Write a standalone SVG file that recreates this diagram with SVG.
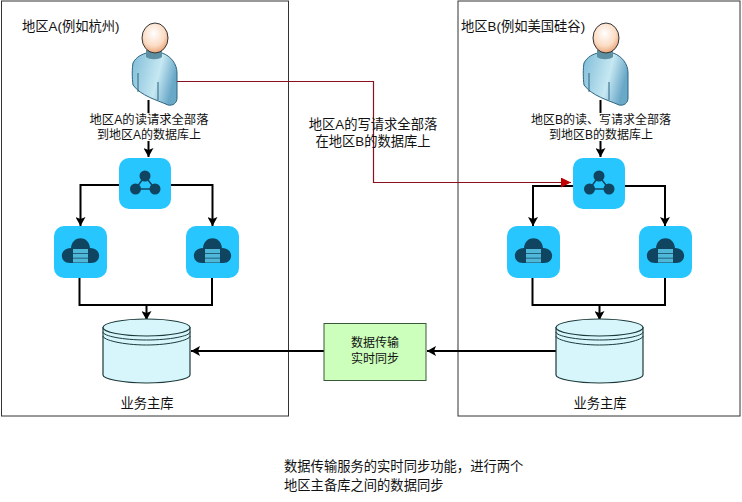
<svg xmlns="http://www.w3.org/2000/svg" width="742" height="502" viewBox="0 0 742 502">
<style>
text{font-family:"Liberation Sans","Noto Sans CJK SC",sans-serif;font-size:12px;fill:#111;text-anchor:middle}
.l{text-anchor:start}
.big{font-size:13.300px}
.c{fill:none;stroke:#000;stroke-width:2}
.r{fill:none;stroke:#8a1020;stroke-width:1.200}
.region{fill:#fff;stroke:#333;stroke-width:1}
.tile{fill:#27c6ff}
.dark{fill:#0f4560}
.db{fill:#d6f6fc;stroke:#1c3a3a;stroke-width:1.200}
</style>
<defs>
<marker id="a" markerUnits="userSpaceOnUse" markerWidth="10" markerHeight="10" refX="9" refY="5" orient="auto"><path d="M0 0L9 5L0 10L2 5Z" fill="#000"/></marker>
<marker id="ar" markerUnits="userSpaceOnUse" markerWidth="11" markerHeight="10" refX="10" refY="5" orient="auto"><path d="M0 0L10 5L0 10Z" fill="#c00000"/></marker>
<linearGradient id="body" x1="0" y1="0" x2="1" y2="0.300"><stop offset="0" stop-color="#7fbcd8"/><stop offset="0.650" stop-color="#c6e8f2"/><stop offset="1" stop-color="#6aa8c8"/></linearGradient>
<radialGradient id="head" cx="0.450" cy="0.350" r="0.700"><stop offset="0" stop-color="#fff"/><stop offset="0.600" stop-color="#fbdcc4"/><stop offset="1" stop-color="#e59a6a"/></radialGradient>
<g id="person">
<path d="M-16 11C-13 5 -7 2 -2 1L13 1C22 4 28 12 28 21V46C28 51 24 54 19 53C8 48 -8 44 -16 33C-17 26 -17 16 -16 11Z" fill="url(#body)" stroke="#2d6480" stroke-width="1"/>
<path d="M-3 -2H13V5C9 8 1 8 -3 5Z" fill="#5d8fa3"/>
<path d="M-11 21V40M9 30V48" fill="none" stroke="#2d6480" stroke-width="1"/>
<ellipse cx="6" cy="-14" rx="13" ry="15" fill="url(#head)" stroke="#333" stroke-width="1"/>
</g>
<g id="router">
<rect x="0" y="0" width="52" height="51" rx="10" class="tile"/>
<path d="M26 18L16.500 31H36Z" fill="none" stroke="#0f4560" stroke-width="1.500"/>
<circle cx="26" cy="18" r="5.500" class="dark"/><circle cx="16.500" cy="31" r="5.500" class="dark"/><circle cx="36" cy="31" r="5.500" class="dark"/>
</g>
<g id="cloud">
<rect x="0" y="0" width="53" height="52" rx="10" class="tile"/>
<path d="M16 37C5 37 5 22 17 22C18 9 35 9 36 22C48 22 48 37 37 37Z" class="dark"/>
<path d="M19 23H34V27H19ZM19 27.800H34V31.800H19ZM19 32.600H34V36.600H19Z" fill="#4fb7d8"/>
</g>
<g id="database">
<path d="M0 8.500V56C0 60 20 64 43.500 64S87 60 87 56V8.500Z" class="db"/>
<ellipse cx="43.500" cy="8.500" rx="43.500" ry="8.500" class="db"/>
<path d="M0 13C0 17 20 21 43.500 21S87 17 87 13M0 17C0 21 20 26 43.500 26S87 21 87 17" fill="none" stroke="#1c3a3a" stroke-width="1"/>
</g>
</defs>
<rect width="742" height="502" fill="#fff"/>
<g id="region-a"><rect x="1.500" y="1" width="287" height="415" class="region"/></g>
<g id="region-b"><rect x="458" y="1" width="282" height="415" class="region"/></g>
<g id="connectors">
<path class="c" d="M148.500 100V157" marker-end="url(#a)"/>
<path class="c" d="M119 185H80.500V226" marker-end="url(#a)"/>
<path class="c" d="M171 185H212.500V226" marker-end="url(#a)"/>
<path class="c" d="M79.500 278V305H212V278M146.500 305V320" marker-end="url(#a)"/>
<path class="c" d="M600.500 100V157" marker-end="url(#a)"/>
<path class="c" d="M573 186H533V226" marker-end="url(#a)"/>
<path class="c" d="M624 186H665V226" marker-end="url(#a)"/>
<path class="c" d="M532.500 278V305H665V278M599.500 305V320" marker-end="url(#a)"/>
<path class="c" d="M324 351H191" marker-end="url(#a)"/>
<path class="c" d="M556 351H427" marker-end="url(#a)"/>
<path class="r" d="M177 81.500H373.500V182.500H571" marker-end="url(#ar)"/>
</g>
<g id="person-a"><use href="#person" x="149" y="52"/></g>
<g id="person-b"><use href="#person" x="600" y="52"/></g>
<g id="label-a-read"><rect x="86" y="113" width="126" height="28" fill="#fff"/><text x="149" y="124" style="font-size:12.300px">地区A的读请求全部落</text><text x="149" y="139">到地区A的数据库上</text></g>
<g id="label-b-read"><rect x="528" y="113" width="148" height="28" fill="#fff"/><text x="601" y="124">地区B的读、写请求全部落</text><text x="601" y="139">到地区B的数据库上</text></g>
<g id="label-a-write"><text class="big" x="373" y="129">地区A的写请求全部落</text><text class="big" x="373" y="146">在地区B的数据库上</text></g>
<g id="router-a"><use href="#router" x="119" y="158"/></g>
<g id="cloud-a1"><use href="#cloud" x="54" y="226"/></g>
<g id="cloud-a2"><use href="#cloud" x="186" y="226"/></g>
<g id="router-b"><use href="#router" x="573" y="158"/></g>
<g id="cloud-b1"><use href="#cloud" x="507" y="226"/></g>
<g id="cloud-b2"><use href="#cloud" x="639" y="226"/></g>
<g id="db-a"><use href="#database" x="103" y="319"/><text class="big" x="147" y="408">业务主库</text></g>
<g id="db-b"><use href="#database" x="556" y="319"/><text class="big" x="600" y="408">业务主库</text></g>
<g id="sync"><rect x="324" y="323.500" width="102" height="57" fill="#ccffbb" stroke="#3a5a3a" stroke-width="1"/><text x="375" y="347">数据传输</text><text x="375" y="363">实时同步</text></g>
<text class="l big" x="22" y="31">地区A(例如杭州)</text>
<text class="l big" x="461" y="31">地区B(例如美国硅谷)</text>
<text class="l big" x="284" y="471">数据传输服务的实时同步功能，进行两个</text>
<text class="l big" x="284" y="490">地区主备库之间的数据同步</text>
</svg>
